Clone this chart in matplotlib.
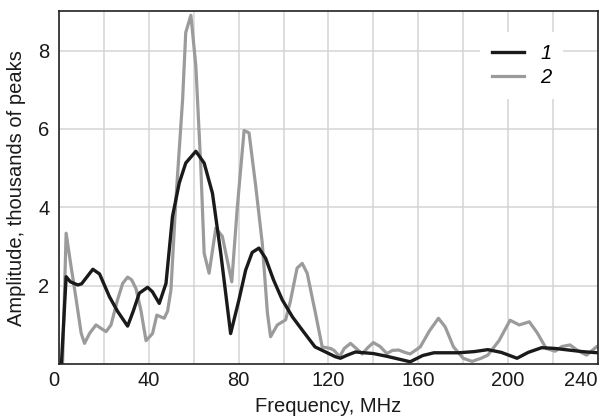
import matplotlib
matplotlib.use("Agg")
import matplotlib.pyplot as plt

plt.rcParams['font.family'] = ['Liberation Sans', 'DejaVu Sans']

# curve 1 (black)
freq1 = [1, 3.1, 5, 8.3, 10, 15, 18, 22.4, 26, 30.5, 33, 35.7, 39.4, 41.5, 44.6,
         47.6, 50.5, 53.5, 56.4, 60.9, 64.6, 68.3, 72, 76.4, 80.1, 83.1, 86, 89,
         92, 95.5, 99.4, 104, 108.3, 114, 118, 123, 125.3, 128, 132, 140, 146,
         152, 156.4, 162, 167, 178, 185, 191, 197, 204, 209, 215, 221, 227, 233, 240]
amp1 = [0, 2.23, 2.1, 2.02, 2.05, 2.42, 2.3, 1.72, 1.35, 0.97, 1.35, 1.81, 1.96, 1.85, 1.55,
        2.06, 3.77, 4.62, 5.13, 5.43, 5.13, 4.36, 2.83, 0.78, 1.64, 2.4, 2.85, 2.96,
        2.7, 2.15, 1.64, 1.2, 0.87, 0.44, 0.33, 0.19, 0.15, 0.22, 0.31, 0.27, 0.2,
        0.12, 0.06, 0.22, 0.29, 0.29, 0.32, 0.37, 0.3, 0.15, 0.3, 0.42, 0.4, 0.36, 0.32, 0.29]

# curve 2 (grey)
freq2 = [1.5, 3.1, 5.3, 7.6, 9.8, 11.3, 13.5, 16.4, 18.7, 20.9, 23.1, 26, 28.3, 30.5,
         32.3, 34.2, 36.4, 38.7, 41.6, 43.5, 46.8, 48.3, 49.8, 52, 55, 56.4, 58.7,
         60.9, 63.1, 64.6, 66.8, 69.8, 72.7, 76.9, 79.4, 82.4, 84.6, 87.6, 90.5,
         92.8, 94.2, 97.2, 100.9, 103, 106, 108.3, 110.5, 114.2, 117.2, 120.9,
         122.5, 125, 127, 129.8, 132, 135, 137.5, 140, 143, 146, 148.5, 151.3, 154,
         156.4, 160.9, 165, 169, 172, 175.7, 180, 184, 188, 191, 196, 200.9, 205,
         209.5, 213, 217, 221, 224, 227.6, 231, 235, 239.4]
amp2 = [0, 3.34, 2.49, 1.64, 0.79, 0.53, 0.78, 1.0, 0.91, 0.83, 1.0, 1.64, 2.06, 2.22,
        2.15, 1.93, 1.38, 0.6, 0.78, 1.25, 1.17, 1.35, 1.89, 4.19, 6.75, 8.46, 8.9,
        7.6, 5.05, 2.83, 2.32, 3.47, 3.26, 2.1, 4.02, 5.96, 5.9, 4.53, 3.08,
        1.3, 0.7, 1.0, 1.13, 1.6, 2.45, 2.57, 2.32, 1.3, 0.44, 0.4,
        0.35, 0.19, 0.4, 0.53, 0.42, 0.26, 0.42, 0.55, 0.45, 0.27, 0.35, 0.36, 0.3,
        0.26, 0.44, 0.85, 1.17, 0.95, 0.44, 0.15, 0.07, 0.15, 0.23, 0.6, 1.12, 1.0,
        1.08, 0.8, 0.4, 0.33, 0.45, 0.49, 0.35, 0.23, 0.44]

xticks = [0, 40, 80, 120, 160, 200, 240]
yticks = [2, 4, 6, 8]

fig = plt.figure(figsize=(6.1, 4.2), dpi=100)
ax = fig.add_axes([0.097, 0.133, 0.883, 0.84])

line2, = ax.plot(freq2, amp2, color='#9b9b9b', lw=2.3, solid_joinstyle='round')
line1, = ax.plot(freq1, amp1, color='#1a1a1a', lw=2.4, solid_joinstyle='round')

ax.set_xlim(0, 240)
ax.set_ylim(0, 9)
ax.set_xticks(xticks)
ax.set_yticks(yticks)
ax.set_xticks(range(20, 240, 20), minor=True)
ax.grid(True, which='both', color='#d4d4d4', lw=1.1)
ax.set_axisbelow(True)
ax.tick_params(which='both', length=0, labelsize=14.5, colors='#1a1a1a')
ax.tick_params(axis='x', pad=5)
ax.tick_params(axis='y', pad=7)
for s in ax.spines.values():
    s.set_color('#222222')
    s.set_linewidth(1.2)

xl = ax.get_xticklabels()
xl[0].set_horizontalalignment('right')
xl[-1].set_horizontalalignment('right')

ax.set_xlabel('Frequency, MHz', fontsize=14.5, color='#1a1a1a', labelpad=5)
ax.set_ylabel('Amplitude, thousands of peaks', fontsize=14.5, color='#1a1a1a', labelpad=9)

leg = ax.legend([line1, line2], ['1', '2'], loc='upper right',
                bbox_to_anchor=(0.955, 0.97), handlelength=1.6, handletextpad=0.8,
                labelspacing=0.25, borderpad=0.6, fontsize=14.5,
                frameon=True, fancybox=False, framealpha=1)
leg.get_frame().set_edgecolor('none')
leg.get_frame().set_facecolor('white')
for t in leg.get_texts():
    t.set_fontstyle('italic')

fig.savefig('out.png', dpi=100)
